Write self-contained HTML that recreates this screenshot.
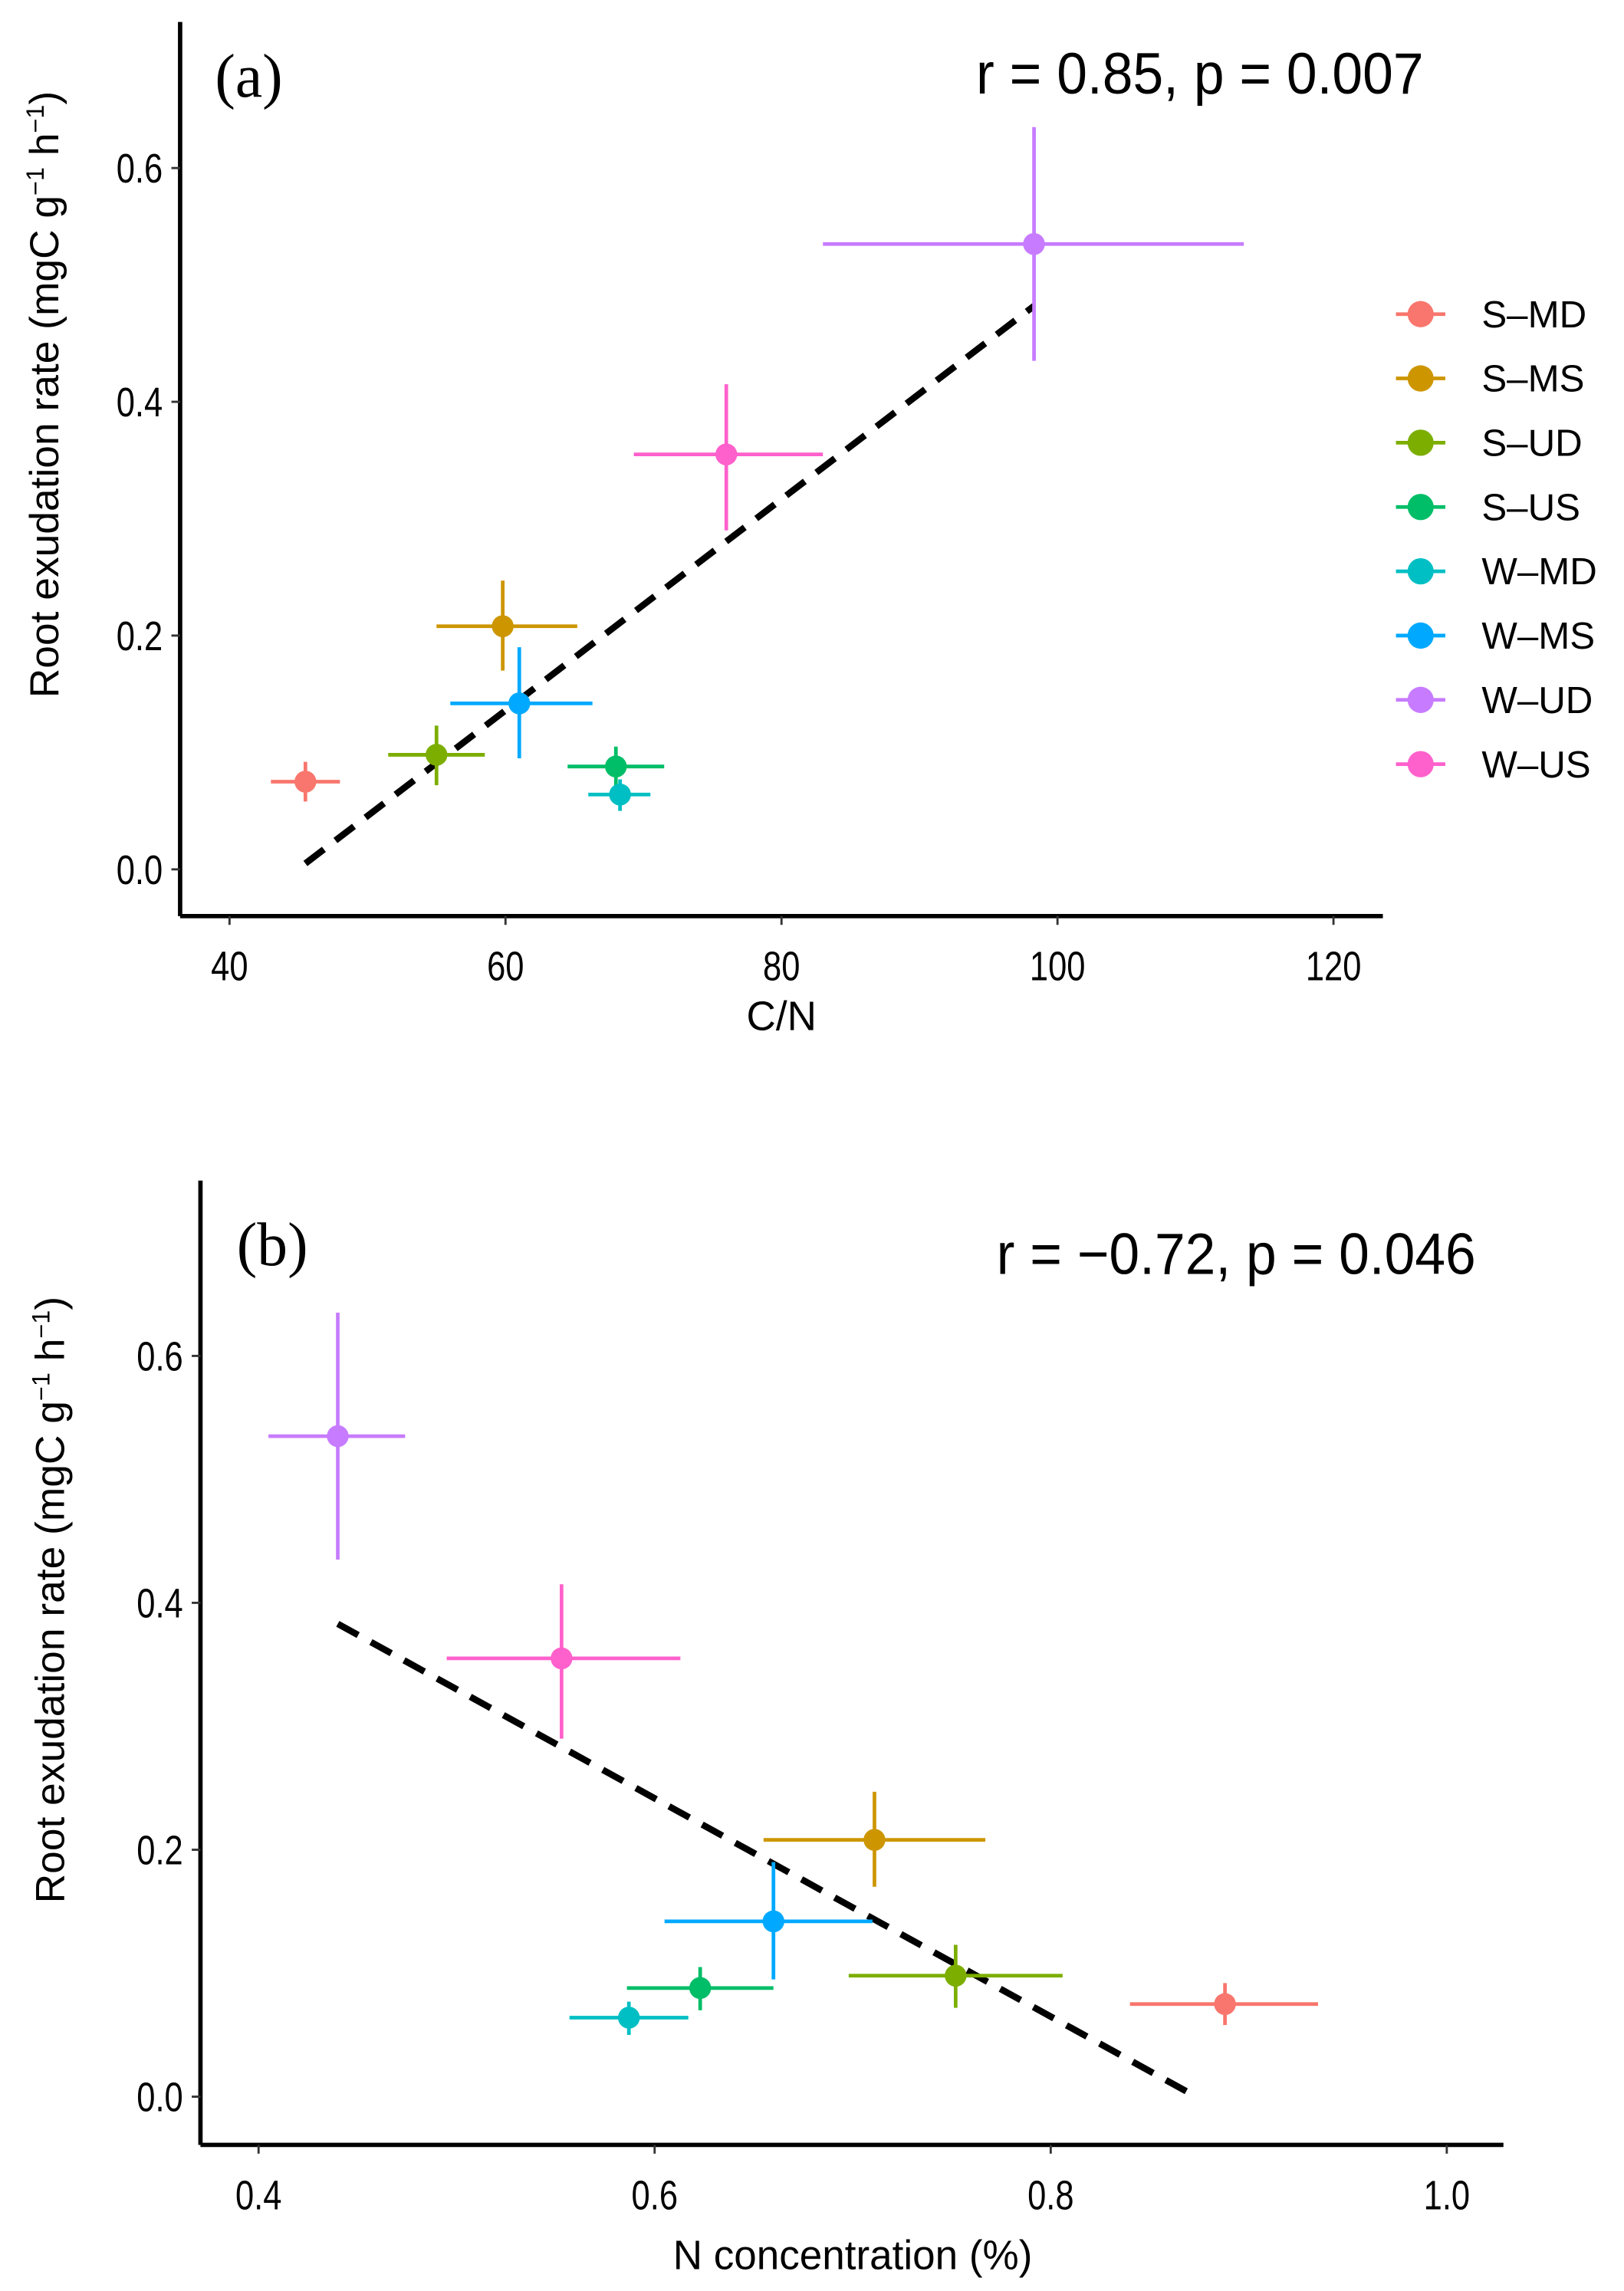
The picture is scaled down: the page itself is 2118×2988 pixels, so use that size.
<!DOCTYPE html>
<html><head><meta charset="utf-8"><style>
html,body{margin:0;padding:0;background:#fff;}
svg{display:block;}
text{font-family:"Liberation Sans",sans-serif;fill:#000;}
</style></head><body>
<svg id="fig" width="2118" height="2988" viewBox="0 0 1118 1568" preserveAspectRatio="none" xmlns="http://www.w3.org/2000/svg">
<g id="pa"></g>
<g id="pb"></g>
<g id="legend"></g>
</svg>
<script>
const groups = ["S-MD","S-MS","S-UD","S-US","W-MD","W-MS","W-UD","W-US"];
const colors = ["#F8766D","#CD9600","#7CAE00","#00BE67","#00BFC4","#00A9FF","#C77CFF","#FF61CC"];
const rate = [0.075,0.208,0.098,0.088,0.064,0.142,0.535,0.355];
const rateLo = [0.058,0.170,0.072,0.070,0.050,0.095,0.435,0.290];
const rateHi = [0.092,0.247,0.123,0.105,0.077,0.190,0.635,0.415];
const cn = [45.5,59.8,55.0,68.0,68.3,61.0,98.3,76.0];
const cnLo = [43.0,55.0,51.5,64.5,66.0,56.0,83.0,69.3];
const cnHi = [48.0,65.2,58.5,71.5,70.5,66.3,113.5,83.0];
const nc = [0.888,0.711,0.752,0.623,0.587,0.660,0.440,0.553];
const ncLo = [0.840,0.655,0.698,0.586,0.557,0.605,0.405,0.495];
const ncHi = [0.935,0.767,0.806,0.660,0.617,0.710,0.474,0.613];
const fitA = [[45.5,0.005],[98.3,0.482]];
const fitB = [[0.44,0.383],[0.87,0.003]];
const xTicksA = [40,60,80,100,120];
const xTicksB = [0.4,0.6,0.8,1.0];
const yTicks = [0.0,0.2,0.4,0.6];

const NS="http://www.w3.org/2000/svg";
function mk(parent,tag,attrs,txt){const e=document.createElementNS(NS,tag);for(const k in attrs)e.setAttribute(k,attrs[k]);if(txt!==undefined)e.textContent=txt;parent.appendChild(e);return e;}

function panel(g,cfg){
  const sx=v=>cfg.x0+(v-cfg.xv0)/(cfg.xv1-cfg.xv0)*(cfg.x1-cfg.x0);
  const sy=v=>cfg.y0+(v-0)/(0.6)*(cfg.y1-cfg.y0);
  let e;
  e=mk(g,'line',{x1:cfg.ax,y1:cfg.top,x2:cfg.ax,y2:cfg.ay,stroke:'#000','stroke-width':3});
  
  e=mk(g,'line',{x1:cfg.ax,y1:cfg.ay,x2:cfg.right,y2:cfg.ay,stroke:'#000','stroke-width':3});
  
  cfg.xt.forEach(t=>{
    e=mk(g,'line',{x1:sx(t),y1:cfg.ay,x2:sx(t),y2:cfg.ay+6,stroke:'#333','stroke-width':1.5});
    
    e=mk(g,'text',{transform:`translate(${sx(t)},${cfg.ay+44}) scale(0.82,1)`,'text-anchor':'middle','font-size':28},cfg.fmt(t));
    
  });
  yTicks.forEach(t=>{
    e=mk(g,'line',{x1:cfg.ax-6,y1:sy(t),x2:cfg.ax,y2:sy(t),stroke:'#333','stroke-width':1.5});
    
    e=mk(g,'text',{transform:`translate(${cfg.ax-12},${sy(t)+10}) scale(0.82,1)`,'text-anchor':'end','font-size':28},t.toFixed(1));
    
  });
  e=mk(g,'line',{x1:sx(cfg.fit[0][0]),y1:sy(cfg.fit[0][1]),x2:sx(cfg.fit[1][0]),y2:sy(cfg.fit[1][1]),stroke:'#000','stroke-width':4.5,'stroke-dasharray':'16 10'});
  
  groups.forEach((gname,i)=>{
    const c=colors[i];
    e=mk(g,'line',{x1:sx(cfg.lo[i]),y1:sy(rate[i]),x2:sx(cfg.hi[i]),y2:sy(rate[i]),stroke:c,'stroke-width':2.5});
    
    e=mk(g,'line',{x1:sx(cfg.xs[i]),y1:sy(rateLo[i]),x2:sx(cfg.xs[i]),y2:sy(rateHi[i]),stroke:c,'stroke-width':2.5});
    
    e=mk(g,'circle',{cx:sx(cfg.xs[i]),cy:sy(rate[i]),r:7.5,fill:c});
    
  });
  e=mk(g,'text',{x:cfg.lx,y:cfg.ly,'font-size':42,style:'font-family:"Liberation Serif",serif'},cfg.label);
  
  e=mk(g,'text',{x:cfg.rx,y:cfg.ry,'font-size':40,textLength:cfg.rlen,lengthAdjust:'spacingAndGlyphs'},cfg.rtext);
  
  e=mk(g,'text',{x:cfg.xtx,y:cfg.xty,'text-anchor':'middle','font-size':28},cfg.xtitle);
  
  const yt=mk(g,'text',{transform:`translate(${cfg.ytx},${cfg.yty}) rotate(-90)`,'text-anchor':'middle','font-size':28});
  
  mk(yt,'tspan',{},'Root exudation rate (mgC g');
  mk(yt,'tspan',{dy:-10,'font-size':17},'\u22121');
  mk(yt,'tspan',{dy:10},' h');
  mk(yt,'tspan',{dy:-10,'font-size':17},'\u22121');
  mk(yt,'tspan',{dy:10},')');
}

panel(document.getElementById('pa'),{x0:158,x1:918,xv0:40,xv1:120,y0:595,y1:115,ax:124,ay:627,top:15,right:952,
  xt:xTicksA,fmt:t=>String(t),fit:fitA,xs:cn,lo:cnLo,hi:cnHi,label:'(a)',lx:148,ly:66,
  rtext:'r = 0.85, p = 0.007',rx:672,ry:64,rlen:308,xtitle:'C/N',xtx:538,xty:705,ytx:40,yty:270});
panel(document.getElementById('pb'),{x0:178,x1:996,xv0:0.4,xv1:1.0,y0:1435,y1:928,ax:138,ay:1468,top:808,right:1035,
  xt:xTicksB,fmt:t=>t.toFixed(1),fit:fitB,xs:nc,lo:ncLo,hi:ncHi,label:'(b)',lx:163,ly:866,
  rtext:'r = \u22120.72, p = 0.046',rx:686,ry:872,rlen:330,xtitle:'N concentration (%)',xtx:587,xty:1553,ytx:44,yty:1095});

const lg=document.getElementById('legend');
groups.forEach((gname,i)=>{
  const y=215+i*44;
  const it=mk(lg,'g',{});
  
  
  mk(it,'line',{x1:961,y1:y,x2:995,y2:y,stroke:colors[i],'stroke-width':2.5});
  mk(it,'circle',{cx:978,cy:y,r:9,fill:colors[i]});
  mk(it,'text',{x:1020,y:y+9,'font-size':26},gname.replace('-','\u2013'));
});
</script>
</body></html>
